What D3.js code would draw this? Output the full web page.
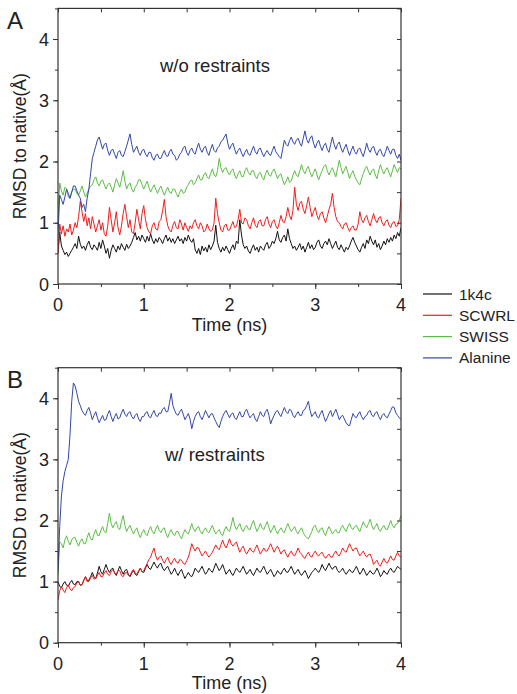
<!DOCTYPE html>
<html>
<head>
<meta charset="utf-8">
<script src="https://cdn.jsdelivr.net/npm/d3@7"></script>
<style>
  body { margin: 0; background: #fff; }
  svg text { font-family: "Liberation Sans", Arial, sans-serif; fill: #222; }
</style>
</head>
<body>
<div id="viz"></div>
<script>
// series names and colours (legend order)
const seriesNames = ["1k4c", "SCWRL", "SWISS", "Alanine"];
const seriesColors = ["#111111", "#f21c1c", "#5cbd45", "#3346a8"];

// RMSD values read off the figure, sampled every 0.02 ns from 0 to 4 ns
// (one row of ten = 0.2 ns)
const freeBlack = [
  0.50,0.85,0.62,0.55,0.48,0.52,0.45,0.50,0.55,0.60,
  0.66,0.58,0.78,0.65,0.58,0.62,0.55,0.64,0.70,0.60,
  0.56,0.64,0.60,0.55,0.68,0.58,0.72,0.62,0.50,0.58,
  0.42,0.55,0.64,0.58,0.52,0.62,0.56,0.66,0.60,0.55,
  0.65,0.58,0.62,0.68,0.76,0.84,0.72,0.78,0.70,0.80,
  0.74,0.68,0.78,0.70,0.82,0.72,0.66,0.74,0.68,0.76,
  0.72,0.66,0.74,0.80,0.70,0.76,0.68,0.74,0.66,0.72,
  0.78,0.70,0.74,0.66,0.76,0.70,0.80,0.72,0.68,0.74,
  0.56,0.50,0.58,0.48,0.62,0.54,0.60,0.52,0.64,0.56,
  0.62,0.70,0.96,0.68,0.58,0.52,0.60,0.54,0.62,0.56,
  0.50,0.58,0.64,0.56,0.70,0.66,1.05,0.80,0.64,0.58,
  0.62,0.54,0.50,0.58,0.64,0.55,0.60,0.52,0.62,0.58,
  0.55,0.64,0.68,0.58,0.62,0.70,0.66,0.74,0.86,0.72,
  0.68,0.76,0.80,0.70,0.90,0.74,0.66,0.58,0.62,0.55,
  0.60,0.66,0.56,0.62,0.52,0.60,0.68,0.58,0.64,0.56,
  0.60,0.68,0.72,0.62,0.58,0.66,0.70,0.64,0.74,0.66,
  0.58,0.64,0.70,0.60,0.56,0.64,0.58,0.52,0.60,0.56,
  0.62,0.70,0.76,0.68,0.62,0.56,0.52,0.60,0.66,0.58,
  0.72,0.66,0.78,0.70,0.64,0.72,0.60,0.66,0.56,0.62,
  0.70,0.64,0.74,0.68,0.76,0.70,0.80,0.74,0.84,0.78,
  0.92];
const freeRed = [
  0.50,0.98,0.82,0.95,0.78,0.90,0.85,0.98,0.80,0.88,
  1.00,0.92,1.10,1.35,1.18,1.02,1.15,0.95,1.08,0.90,
  1.10,0.98,0.85,0.95,1.05,0.88,1.00,0.82,0.78,0.95,
  1.25,1.05,0.85,1.00,1.18,0.92,0.80,0.95,1.15,1.30,
  1.10,0.92,1.05,0.85,0.82,1.00,1.22,1.05,0.90,1.15,
  1.28,1.05,0.92,0.85,0.82,0.95,1.00,0.90,0.88,1.02,
  1.05,1.20,1.38,1.10,0.95,0.88,0.85,0.96,1.02,0.92,
  0.90,1.05,0.98,0.88,1.00,0.92,0.86,0.95,0.90,1.00,
  1.05,0.95,0.90,1.00,0.95,0.85,0.88,0.98,0.90,0.86,
  0.88,1.00,1.40,1.15,1.00,0.88,0.85,0.95,0.98,0.88,
  0.88,0.95,1.02,0.92,0.94,1.05,1.22,1.00,0.98,1.08,
  1.05,0.95,0.90,1.00,1.08,0.96,0.92,1.02,1.05,0.95,
  0.95,1.05,1.10,0.98,0.92,1.02,1.05,0.95,0.90,1.00,
  1.12,1.02,1.00,1.10,1.25,1.12,1.05,1.20,1.58,1.30,
  1.20,1.32,1.35,1.22,1.15,1.28,1.42,1.25,1.10,1.18,
  1.25,1.12,1.05,1.15,1.18,1.08,1.00,1.10,1.22,1.30,
  1.48,1.25,1.10,1.02,1.00,0.94,0.90,0.98,1.00,0.92,
  0.86,0.92,0.95,0.88,0.88,0.98,1.18,1.05,1.00,1.08,
  1.12,1.02,0.95,1.05,1.15,1.05,1.00,1.08,1.10,1.00,
  0.95,1.02,1.05,0.96,0.92,1.00,1.02,0.94,0.95,1.05,
  1.40];
const freeGreen = [
  1.10,1.65,1.52,1.45,1.58,1.55,1.42,1.40,1.50,1.55,
  1.55,1.48,1.45,1.52,1.60,1.50,1.42,1.48,1.55,1.60,
  1.62,1.70,1.75,1.65,1.60,1.68,1.70,1.62,1.55,1.62,
  1.65,1.58,1.50,1.62,1.72,1.65,1.58,1.70,1.85,1.68,
  1.55,1.62,1.65,1.55,1.50,1.58,1.62,1.70,1.70,1.62,
  1.55,1.62,1.68,1.58,1.50,1.56,1.62,1.55,1.48,1.55,
  1.60,1.52,1.45,1.52,1.58,1.50,1.48,1.55,1.55,1.48,
  1.42,1.50,1.55,1.48,1.50,1.58,1.62,1.68,1.70,1.62,
  1.65,1.72,1.78,1.70,1.70,1.78,1.82,1.74,1.72,1.80,
  1.88,1.78,1.75,1.85,2.05,1.90,1.82,1.88,1.90,1.82,
  1.78,1.85,1.88,1.78,1.72,1.80,1.85,1.76,1.75,1.85,
  1.90,1.82,1.78,1.85,1.85,1.76,1.72,1.80,1.82,1.74,
  1.70,1.80,1.86,1.78,1.76,1.84,1.88,1.80,1.72,1.78,
  1.80,1.70,1.62,1.68,1.75,1.66,1.68,1.78,1.85,1.78,
  1.75,1.85,1.95,1.85,1.80,1.88,1.92,1.82,1.75,1.82,
  1.88,1.78,1.70,1.78,1.85,1.92,1.95,1.85,1.78,1.85,
  1.90,1.82,1.75,1.88,2.02,1.90,1.80,1.86,1.92,1.82,
  1.72,1.80,1.85,1.76,1.70,1.65,1.62,1.72,1.80,1.88,
  1.92,1.84,1.78,1.85,1.88,1.78,1.72,1.85,1.95,1.86,
  1.80,1.86,1.90,1.82,1.75,1.85,1.95,1.88,1.82,1.90,
  1.88];
const freeBlue = [
  0.80,1.45,1.38,1.30,1.42,1.55,1.48,1.40,1.50,1.60,
  1.60,1.52,1.45,1.40,1.25,1.30,1.18,1.40,1.55,1.80,
  2.05,2.15,2.25,2.35,2.40,2.30,2.20,2.28,2.30,2.18,
  2.10,2.18,2.20,2.12,2.05,2.15,2.18,2.10,2.08,2.16,
  2.25,2.35,2.45,2.28,2.15,2.20,2.25,2.15,2.10,2.18,
  2.20,2.12,2.08,2.15,2.15,2.06,2.02,2.10,2.12,2.05,
  2.05,2.12,2.18,2.10,2.08,2.16,2.20,2.12,2.10,2.02,
  2.05,2.12,2.15,2.22,2.25,2.15,2.10,2.18,2.22,2.15,
  2.12,2.22,2.30,2.20,2.15,2.22,2.25,2.15,2.10,2.20,
  2.28,2.18,2.15,2.22,2.25,2.32,2.35,2.40,2.45,2.30,
  2.20,2.26,2.30,2.20,2.12,2.18,2.22,2.14,2.08,2.15,
  2.20,2.12,2.10,2.18,2.25,2.16,2.12,2.20,2.22,2.14,
  2.08,2.14,2.18,2.12,2.10,2.18,2.25,2.16,2.12,2.08,
  2.05,2.20,2.35,2.28,2.25,2.34,2.40,2.32,2.28,2.35,
  2.38,2.30,2.25,2.38,2.50,2.36,2.30,2.38,2.42,2.30,
  2.22,2.30,2.35,2.25,2.18,2.26,2.30,2.20,2.15,2.28,
  2.40,2.28,2.20,2.28,2.32,2.22,2.15,2.22,2.28,2.18,
  2.10,2.18,2.25,2.16,2.12,2.20,2.22,2.14,2.08,2.18,
  2.30,2.20,2.15,2.22,2.25,2.16,2.10,2.18,2.20,2.12,
  2.08,2.16,2.25,2.18,2.12,2.20,2.20,2.10,2.05,2.12,
  2.02];

const restBlack = [
  1.00,0.92,0.90,0.96,1.00,0.94,0.92,0.98,1.02,0.96,
  0.95,1.00,1.00,0.94,0.95,1.02,1.08,1.02,1.02,1.08,
  1.15,1.08,1.05,1.14,1.25,1.16,1.12,1.20,1.28,1.20,
  1.15,1.20,1.22,1.14,1.10,1.18,1.25,1.18,1.12,1.18,
  1.20,1.12,1.08,1.14,1.18,1.12,1.10,1.16,1.22,1.16,
  1.15,1.22,1.28,1.22,1.20,1.26,1.32,1.26,1.22,1.28,
  1.30,1.22,1.18,1.22,1.25,1.18,1.12,1.16,1.22,1.15,
  1.10,1.16,1.20,1.12,1.05,1.10,1.15,1.10,1.08,1.14,
  1.22,1.18,1.15,1.20,1.25,1.18,1.12,1.16,1.22,1.18,
  1.15,1.22,1.30,1.24,1.18,1.22,1.28,1.20,1.12,1.16,
  1.20,1.14,1.10,1.16,1.22,1.18,1.15,1.20,1.25,1.18,
  1.12,1.16,1.20,1.14,1.10,1.16,1.22,1.17,1.15,1.20,
  1.25,1.18,1.12,1.16,1.20,1.14,1.08,1.12,1.18,1.14,
  1.12,1.18,1.22,1.16,1.15,1.20,1.25,1.18,1.12,1.16,
  1.20,1.14,1.10,1.14,1.18,1.12,1.05,1.10,1.15,1.18,
  1.22,1.18,1.15,1.20,1.28,1.22,1.18,1.24,1.30,1.24,
  1.20,1.24,1.25,1.18,1.15,1.18,1.22,1.16,1.12,1.16,
  1.20,1.16,1.15,1.20,1.25,1.18,1.12,1.16,1.22,1.16,
  1.10,1.14,1.18,1.14,1.12,1.16,1.22,1.16,1.08,1.12,
  1.18,1.14,1.12,1.18,1.22,1.17,1.15,1.20,1.25,1.22,
  1.20];
const restRed = [
  0.70,0.85,0.92,0.86,0.82,0.90,0.95,0.88,0.85,0.90,
  0.92,0.98,1.00,0.94,0.95,1.02,1.08,1.00,1.00,1.06,
  1.10,1.04,1.05,1.10,1.15,1.08,1.08,1.14,1.18,1.12,
  1.10,1.16,1.20,1.14,1.12,1.18,1.18,1.10,1.08,1.14,
  1.15,1.10,1.10,1.16,1.20,1.14,1.12,1.18,1.22,1.16,
  1.18,1.24,1.30,1.36,1.40,1.48,1.55,1.42,1.35,1.40,
  1.42,1.35,1.30,1.36,1.40,1.32,1.28,1.34,1.38,1.32,
  1.30,1.36,1.35,1.30,1.28,1.34,1.40,1.50,1.62,1.55,
  1.50,1.56,1.55,1.48,1.42,1.46,1.50,1.44,1.40,1.44,
  1.48,1.54,1.60,1.55,1.52,1.60,1.68,1.60,1.55,1.62,
  1.70,1.62,1.58,1.62,1.65,1.56,1.48,1.54,1.58,1.50,
  1.45,1.50,1.55,1.50,1.48,1.54,1.60,1.52,1.45,1.50,
  1.55,1.50,1.50,1.56,1.62,1.55,1.48,1.54,1.58,1.52,
  1.45,1.50,1.52,1.45,1.40,1.46,1.50,1.44,1.42,1.48,
  1.55,1.48,1.45,1.40,1.38,1.44,1.48,1.42,1.40,1.46,
  1.50,1.44,1.42,1.46,1.48,1.42,1.38,1.42,1.45,1.40,
  1.40,1.46,1.50,1.44,1.42,1.48,1.55,1.50,1.48,1.55,
  1.62,1.56,1.50,1.54,1.55,1.48,1.42,1.46,1.50,1.44,
  1.40,1.44,1.45,1.38,1.28,1.32,1.35,1.28,1.25,1.32,
  1.38,1.32,1.30,1.36,1.42,1.36,1.35,1.42,1.48,1.42,
  1.40];
const restGreen = [
  1.10,1.65,1.62,1.55,1.68,1.75,1.66,1.60,1.68,1.72,
  1.72,1.64,1.58,1.66,1.70,1.62,1.62,1.72,1.80,1.70,
  1.68,1.78,1.85,1.76,1.75,1.84,1.90,1.82,1.80,1.95,
  2.12,1.95,1.88,1.94,1.98,1.88,1.85,1.98,2.08,1.92,
  1.82,1.88,1.92,1.84,1.78,1.84,1.88,1.78,1.72,1.80,
  1.85,1.78,1.75,1.84,1.90,1.82,1.78,1.86,1.92,1.84,
  1.80,1.86,1.88,1.78,1.72,1.80,1.85,1.78,1.75,1.82,
  1.82,1.75,1.70,1.78,1.85,1.80,1.78,1.86,1.95,1.86,
  1.82,1.88,1.90,1.82,1.78,1.84,1.88,1.82,1.80,1.86,
  1.92,1.84,1.78,1.82,1.85,1.78,1.75,1.84,1.90,1.84,
  1.82,1.92,2.05,1.92,1.85,1.90,1.95,1.86,1.82,1.88,
  1.92,1.86,1.85,1.94,2.00,1.90,1.82,1.88,1.95,1.88,
  1.85,1.92,1.98,1.88,1.80,1.86,1.92,1.84,1.78,1.84,
  1.88,1.82,1.80,1.88,1.95,1.88,1.82,1.86,1.90,1.82,
  1.78,1.84,1.88,1.80,1.75,1.72,1.70,1.76,1.82,1.90,
  1.92,1.84,1.80,1.86,1.88,1.80,1.75,1.84,1.90,1.84,
  1.78,1.82,1.85,1.80,1.80,1.88,1.92,1.86,1.82,1.90,
  1.95,1.88,1.85,1.90,1.92,1.86,1.82,1.90,1.98,1.92,
  1.88,1.95,2.02,1.92,1.85,1.90,1.95,1.86,1.82,1.88,
  1.92,1.86,1.85,1.92,2.00,1.92,1.88,1.94,1.95,2.00,
  2.08];
const restBlue = [
  1.20,1.90,2.40,2.65,2.80,2.90,3.00,3.40,3.95,4.25,
  4.20,4.08,3.95,3.88,3.80,3.75,3.72,3.80,3.85,3.76,
  3.65,3.72,3.78,3.68,3.60,3.66,3.72,3.64,3.65,3.74,
  3.80,3.70,3.62,3.70,3.75,3.66,3.68,3.76,3.82,3.74,
  3.70,3.76,3.78,3.70,3.66,3.72,3.75,3.66,3.62,3.70,
  3.70,3.76,3.78,3.70,3.68,3.75,3.80,3.72,3.70,3.76,
  3.75,3.82,3.85,3.78,3.78,3.92,4.08,3.88,3.80,3.74,
  3.72,3.78,3.82,3.74,3.65,3.70,3.75,3.66,3.50,3.62,
  3.70,3.76,3.78,3.70,3.65,3.72,3.80,3.74,3.68,3.74,
  3.75,3.68,3.62,3.56,3.52,3.62,3.70,3.76,3.80,3.74,
  3.68,3.74,3.76,3.68,3.65,3.72,3.78,3.70,3.70,3.78,
  3.82,3.74,3.68,3.72,3.75,3.66,3.62,3.70,3.78,3.72,
  3.70,3.78,3.82,3.72,3.58,3.66,3.72,3.78,3.80,3.74,
  3.70,3.78,3.85,3.78,3.75,3.82,3.80,3.72,3.68,3.74,
  3.78,3.72,3.72,3.80,3.82,3.88,3.95,3.80,3.70,3.74,
  3.78,3.70,3.68,3.75,3.80,3.70,3.62,3.68,3.75,3.80,
  3.70,3.76,3.82,3.74,3.65,3.70,3.72,3.66,3.60,3.56,
  3.55,3.65,3.75,3.70,3.68,3.74,3.78,3.70,3.65,3.70,
  3.72,3.78,3.80,3.72,3.70,3.76,3.78,3.70,3.65,3.72,
  3.75,3.70,3.68,3.74,3.80,3.86,3.85,3.76,3.72,3.68,
  3.65];

const xTicks = [0, 1, 2, 3, 4];
const yTicks = [0, 1, 2, 3, 4];

const panels = [
  { label: "A", note: "w/o restraints", series: [freeBlack, freeRed, freeGreen, freeBlue],
    top: 8.4, bottom: 284, noteX: 160, noteY: 72, labelY: 29, tickLabelY: 311, titleY: 331 },
  { label: "B", note: "w/ restraints", series: [restBlack, restRed, restGreen, restBlue],
    top: 367.7, bottom: 642.7, noteX: 165, noteY: 461, labelY: 388, tickLabelY: 670, titleY: 689 }
];

const width = 517, height = 694;
const plotLeft = 58, plotRight = 401;

const svg = d3.select("#viz").append("svg")
  .attr("width", width)
  .attr("height", height);

const x = d3.scaleLinear().domain([0, 4]).range([plotLeft, plotRight]);
const halfSteps = d3.range(0, 4.01, 0.5);
const yHalfSteps = d3.range(0, 4.51, 0.5);

panels.forEach((p, pi) => {
  const y = d3.scaleLinear().domain([0, 4.5]).range([p.bottom, p.top]);
  const g = svg.append("g");

  // clip the traces to the frame
  g.append("clipPath").attr("id", "clip" + pi)
    .append("rect")
      .attr("x", plotLeft).attr("y", p.top)
      .attr("width", plotRight - plotLeft).attr("height", p.bottom - p.top);

  // time axis: samples are evenly spaced over 0..4 ns
  const line = d3.line()
    .x((d, i, arr) => x(i * 4 / (arr.length - 1)))
    .y(d => y(d));

  p.series.forEach((vals, si) => {
    g.append("path")
      .datum(vals)
      .attr("clip-path", "url(#clip" + pi + ")")
      .attr("fill", "none")
      .attr("stroke", seriesColors[si])
      .attr("stroke-width", 1)
      .attr("stroke-linejoin", "round")
      .attr("d", line);
  });

  // ticks: outward on left/bottom, inward on top/right
  const noLabel = () => "";
  const tickStyle = sel => {
    sel.select(".domain").remove();
    sel.selectAll("line").attr("stroke", "#333").attr("stroke-width", 1);
  };
  g.append("g").attr("transform", `translate(0,${p.bottom})`)
    .call(d3.axisBottom(x).tickValues(halfSteps).tickSize(3).tickFormat(noLabel)).call(tickStyle);
  g.append("g").attr("transform", `translate(0,${p.bottom})`)
    .call(d3.axisBottom(x).tickValues(xTicks).tickSize(5).tickFormat(noLabel)).call(tickStyle);
  g.append("g").attr("transform", `translate(0,${p.top})`)
    .call(d3.axisTop(x).tickValues(halfSteps).tickSize(-4).tickFormat(noLabel)).call(tickStyle);
  g.append("g").attr("transform", `translate(${plotLeft},0)`)
    .call(d3.axisLeft(y).tickValues(yHalfSteps).tickSize(3).tickFormat(noLabel)).call(tickStyle);
  g.append("g").attr("transform", `translate(${plotLeft},0)`)
    .call(d3.axisLeft(y).tickValues(yTicks).tickSize(5).tickFormat(noLabel)).call(tickStyle);
  g.append("g").attr("transform", `translate(${plotRight},0)`)
    .call(d3.axisRight(y).tickValues(yHalfSteps).tickSize(-4).tickFormat(noLabel)).call(tickStyle);

  // frame
  g.append("rect")
    .attr("x", plotLeft).attr("y", p.top)
    .attr("width", plotRight - plotLeft).attr("height", p.bottom - p.top)
    .attr("fill", "none").attr("stroke", "#333").attr("stroke-width", 1.2);

  // tick labels
  g.selectAll(".xl").data(xTicks).join("text")
    .attr("x", d => x(d)).attr("y", p.tickLabelY)
    .attr("text-anchor", "middle").attr("font-size", 18)
    .text(d => d);
  g.selectAll(".yl").data(yTicks).join("text")
    .attr("x", plotLeft - 9).attr("y", d => y(d) + 6.5)
    .attr("text-anchor", "end").attr("font-size", 18)
    .text(d => d);

  // axis titles
  g.append("text")
    .attr("x", (plotLeft + plotRight) / 2).attr("y", p.titleY)
    .attr("text-anchor", "middle").attr("font-size", 18)
    .text("Time (ns)");
  g.append("text")
    .attr("transform", `translate(26,${(p.top + p.bottom) / 2}) rotate(-90)`)
    .attr("text-anchor", "middle").attr("font-size", 17.5)
    .text("RMSD to native(Å)");

  // panel letter and condition note
  g.append("text").attr("x", 7).attr("y", p.labelY)
    .attr("font-size", 24).text(p.label);
  g.append("text").attr("x", p.noteX).attr("y", p.noteY)
    .attr("font-size", 18.5).text(p.note);
});

// legend
const legend = svg.append("g").attr("transform", "translate(423,294)");
seriesNames.forEach((name, i) => {
  const row = legend.append("g").attr("transform", `translate(0,${i * 21.3})`);
  row.append("line").attr("x1", 0).attr("x2", 29)
    .attr("stroke", seriesColors[i]).attr("stroke-width", 1.2);
  row.append("text").attr("x", 36).attr("y", 5.5)
    .attr("font-size", 15.5).text(name);
});
</script>
</body>
</html>
